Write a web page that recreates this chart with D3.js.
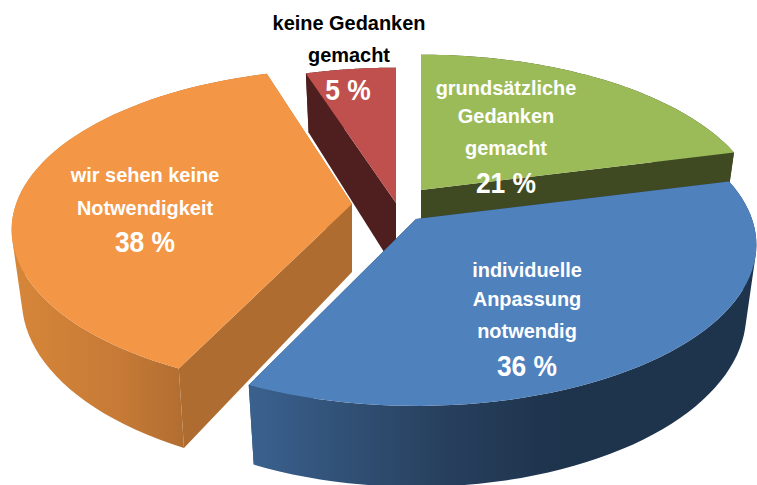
<!DOCTYPE html>
<html><head><meta charset="utf-8">
<script src="https://cdnjs.cloudflare.com/ajax/libs/d3/7.8.5/d3.min.js"></script>
<style>html,body{margin:0;padding:0;background:#fff}svg{display:block}
text{font-family:"Liberation Sans",Arial,sans-serif;font-weight:700;text-anchor:middle}</style>
</head><body>
<script>
// data
const categories = ["grundsätzliche Gedanken gemacht","individuelle Anpassung notwendig","wir sehen keine Notwendigkeit","keine Gedanken gemacht"];
const values = [21,36,38,5];
const labelLines = [["grundsätzliche","Gedanken","gemacht"],["individuelle","Anpassung","notwendig"],["wir sehen keine","Notwendigkeit"],["keine Gedanken","gemacht"]];

// styling and layout
const topColors = ["#9BBB59","#4F81BD","#F39645","#C0504D"];
const cutColors = ["#3F4A22","#2A4460","#AF6C30","#4F1F1F"];
const rimColors = ["#3F4A22","url(#rimBlue)","url(#rimOrange)","#4F1F1F"];
const apexes = [[421,190],[416,219],[352,204],[396,203]];
const tiltDeg = [0,0,1,0];
const labelX = [506,527,145,349];
const lineY = [[95,123,155],[277,306,338],[182,215],[30,62]];
const pctY = [193,376,252,100];
const pctX = [506,527,145,348];
const labelFill = ["#fff","#fff","#fff","#000"];
const pctFill = ["#fff","#fff","#fff","#fff"];

const W=757,H=485, A=336, B=157, K=0.16, DEPTH=68, BOTTOM_SCALE=0.97;
const svg=d3.select("body").append("svg").attr("width",W).attr("height",H);
const defs=svg.append("defs");
function grad(id,x1,x2,stops){
  const g=defs.append("linearGradient").attr("id",id).attr("gradientUnits","userSpaceOnUse")
    .attr("x1",x1).attr("x2",x2).attr("y1",0).attr("y2",0);
  stops.forEach(s=>g.append("stop").attr("offset",s[0]).attr("stop-color",s[1]));
}
grad("rimBlue",250,560,[[0,"#3A618E"],[0.6,"#28415F"],[1,"#1E334C"]]);
grad("rimOrange",16,190,[[0,"#D68639"],[0.6,"#C67A36"],[1,"#AF6C30"]]);

const pie=d3.pie().sort(null).startAngle(0).endAngle(2*Math.PI);
const arcs=pie(values);
const line=d3.line();

// perspective projection of a point of the unit disc, relative to the slice apex
function proj(r,th,apex,drop){
  const u=r*Math.sin(th), v=-r*Math.cos(th), w=1-K*v, s=drop?BOTTOM_SCALE:1;
  return [apex[0]+s*A*u/w, apex[1]+B*v/w+(drop?DEPTH/w:0)];
}
function arcPts(a,apex,drop,tilt){
  return d3.range(0,61).map(i=>proj(1,tilt+a.startAngle+(a.endAngle-a.startAngle)*i/60,apex,drop));
}
// the outer wall as a union of equally wound quads, so the silhouette stays convex
function wallPath(top,bot){
  return d3.range(0,60).map(i=>{
    const q=[top[i],top[i+1],bot[i+1],bot[i]];
    if(d3.polygonArea(q)<0) q.reverse();
    return line(q)+"Z";
  }).join("");
}
const order=[0,3,2,1];
order.forEach(i=>{
  const a=arcs[i], c=apexes[i], g=svg.append("g"), tilt=tiltDeg[i]*Math.PI/180;
  const top=arcPts(a,c,false,tilt), bot=arcPts(a,c,true,tilt);
  const c2=proj(0,0,c,true);
  g.append("path").attr("d",line([c,top[0],bot[0],c2])+"Z").attr("fill",cutColors[i]);
  g.append("path").attr("d",line([c,top[60],bot[60],c2])+"Z").attr("fill",cutColors[i]);
  g.append("path").attr("d",wallPath(top,bot)).attr("fill",rimColors[i]);
  g.append("path").attr("d",line([c].concat(top))+"Z").attr("fill",topColors[i]);
});

function txt(s,x,y,size,sx,fill){
  svg.append("text").attr("transform",`translate(${x},${y}) scale(${sx},1)`)
    .attr("font-size",size).attr("fill",fill).text(s);
}
categories.forEach((_,i)=>{
  labelLines[i].forEach((s,j)=>txt(s,labelX[i],lineY[i][j],21,0.95,labelFill[i]));
  txt(values[i]+" %",pctX[i],pctY[i],30,0.88,pctFill[i]);
});
</script>
</body></html>
